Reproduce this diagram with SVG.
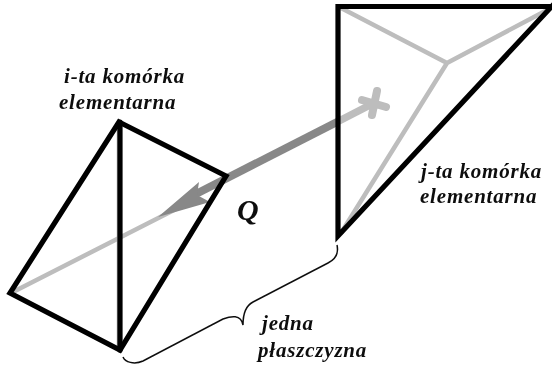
<svg xmlns="http://www.w3.org/2000/svg" width="552" height="366" viewBox="0 0 552 366">
<defs><filter id="soft" x="-5%" y="-5%" width="110%" height="110%"><feGaussianBlur stdDeviation="0.5"/></filter></defs>
<style>
.edge{fill:none;stroke:#000;stroke-width:5.200;stroke-linejoin:miter;stroke-linecap:round}
.inner{fill:none;stroke:#bdbdbd;stroke-width:4.500;stroke-linecap:round;stroke-linejoin:round}
.cross{fill:none;stroke:#bdbdbd;stroke-width:8;stroke-linecap:round}
.thin{fill:none;stroke:#aaa;stroke-width:1.500}
text{font-family:"Liberation Serif",serif;font-style:italic;font-weight:bold;font-size:21px;fill:#111;letter-spacing:.8px}
</style>
<rect width="552" height="366" fill="#fff"/>
<g filter="url(#soft)">
<g id="connectors">
<path class="inner" d="M11 293L178 208"/>
<path class="thin" d="M117.500 123V350"/>
<path d="M338 121.500L372 104" fill="none" stroke="#bdbdbd" stroke-width="7.500"/>
<path d="M338 121.500L192 196" fill="none" stroke="#888" stroke-width="8"/>
<path d="M158 217L199 182L197 195L210 202Z" fill="#888"/>
<path d="M337 245C339 254 334 260 328 263L253 302C247 305 243 312 243 325C241 314 231 316 223 319L143 361C134 365 125 362 123 357" fill="none" stroke="#111" stroke-width="1.500"/>
</g>
<g id="cell-i">
<path class="edge" d="M119 122L226 176L120 350L10 293Z"/>
<path class="edge" d="M120 122V350"/>
<text x="64" y="83">i-ta komórka</text>
<text x="59" y="109">elementarna</text>
</g>
<g id="cell-j">
<path class="inner" d="M341 8L447 63L551 8M447 63L341 233"/>
<path class="cross" d="M362 100L386 107M377 91L372 115"/>
<path class="edge" d="M554 6.500H338V236L554 4"/>
<text x="421" y="178">j-ta komórka</text>
<text x="420" y="203">elementarna</text>
</g>
<g id="label-q"><text x="237" y="220" style="font-size:30px">Q</text></g>
<g id="label-plane">
<text x="262" y="330">jedna</text>
<text x="258" y="357">płaszczyzna</text>
</g>
</g>
</svg>
